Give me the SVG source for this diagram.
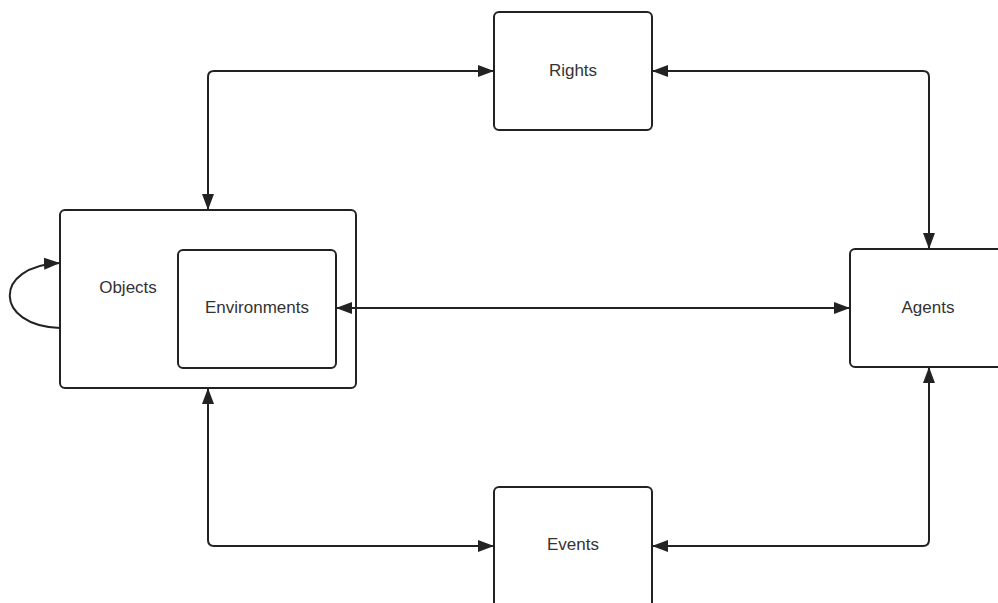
<svg xmlns="http://www.w3.org/2000/svg" width="998" height="603" viewBox="0 0 998 603">
<defs>
<marker id="ah" viewBox="0 0 16 12" refX="16" refY="6" markerWidth="16" markerHeight="12" markerUnits="userSpaceOnUse" orient="auto-start-reverse">
<path d="M0,0 L16,6 L0,12 Z" fill="#222"/>
</marker>
<style>
.box{fill:#fff;stroke:#222;stroke-width:2}
.lbl{font-family:"Liberation Sans",Arial,sans-serif;font-size:17px;fill:#333;text-anchor:middle;dominant-baseline:central}
.con{fill:none;stroke:#222;stroke-width:2;marker-start:url(#ah);marker-end:url(#ah)}
</style>
</defs>
<rect width="998" height="603" fill="#fff"/>
<g id="objects">
<rect class="box" x="60" y="210" width="296" height="178" rx="5"/>
<text class="lbl" x="128" y="287">Objects</text>
</g>
<g id="environments">
<rect class="box" x="178" y="250" width="158" height="118" rx="5"/>
<text class="lbl" x="257" y="307">Environments</text>
</g>
<g id="rights">
<rect class="box" x="494" y="12" width="158" height="118" rx="5"/>
<text class="lbl" x="573" y="70">Rights</text>
</g>
<g id="agents">
<rect class="box" x="850" y="249" width="160" height="118" rx="5"/>
<text class="lbl" x="928" y="307">Agents</text>
</g>
<g id="events">
<rect class="box" x="494" y="487" width="158" height="130" rx="5"/>
<text class="lbl" x="573" y="544">Events</text>
</g>
<g id="connectors">
<path class="con" d="M208,210 V77 Q208,71 214,71 H494"/>
<path class="con" d="M652,71 H923 Q929,71 929,77 V249"/>
<path class="con" d="M336,308 H850"/>
<path class="con" d="M208,388 V540 Q208,546 214,546 H494"/>
<path class="con" d="M652,546 H923 Q929,546 929,540 V367"/>
<path fill="none" stroke="#222" stroke-width="2" marker-end="url(#ah)" d="M60,328 C-6,326 -8,266 60,263"/>
</g>
</svg>
